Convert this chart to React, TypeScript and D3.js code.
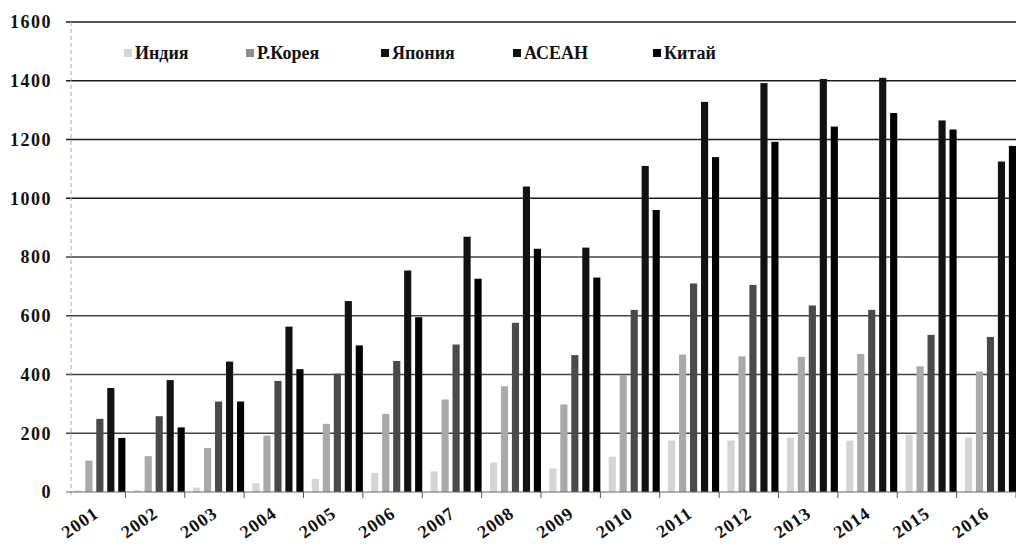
import React, { useEffect, useRef } from 'react';
import { scaleBand, scaleLinear, select } from 'd3';

const years = ['2001', '2002', '2003', '2004', '2005', '2006', '2007', '2008', '2009', '2010', '2011', '2012', '2013', '2014', '2015', '2016'];
const seriesNames = ['Индия', 'Р.Корея', 'Япония', 'АСЕАН', 'Китай'];
const india = [5, 6, 15, 30, 45, 65, 70, 100, 80, 120, 175, 175, 185, 175, 195, 185];
const korea = [107, 122, 150, 192, 232, 266, 315, 360, 298, 398, 468, 462, 460, 470, 428, 410];
const japan = [249, 258, 308, 378, 403, 446, 502, 576, 466, 620, 710, 705, 635, 620, 535, 528];
const asean = [354, 381, 444, 563, 650, 754, 869, 1040, 832, 1110, 1328, 1392, 1406, 1410, 1265, 1125];
const china = [184, 220, 308, 418, 499, 595, 726, 828, 730, 960, 1140, 1192, 1244, 1290, 1234, 1178];
const yTicks = [0, 200, 400, 600, 800, 1000, 1200, 1400, 1600];

const colors = ['#d4d4d4', '#a9a9a9', '#4a4a4a', '#121212', '#000000'];

export default function App() {
	const ref = useRef<SVGSVGElement>(null);

	useEffect(() => {
		const svg = select(ref.current);
		svg.selectAll('*').remove();

		const left = 66;
		const right = 1016;
		const top = 22;
		const bottom = 492;
		const font = 'Times New Roman, Liberation Serif, serif';
		const values = [india, korea, japan, asean, china];

		const y = scaleLinear().domain([0, 1600]).range([bottom, top]);
		const x0 = scaleBand()
			.domain(years)
			.range([left, right])
			.paddingInner(0.14)
			.paddingOuter(0.07)
			.align(1);
		const x1 = scaleBand().domain(seriesNames).range([0, x0.bandwidth()]).paddingInner(0.35);
		const step = x0.step();

		// grid
		svg.append('g')
			.selectAll('line')
			.data(yTicks.filter((d) => d > 0))
			.enter()
			.append('line')
			.attr('x1', left)
			.attr('x2', right)
			.attr('y1', (d) => y(d))
			.attr('y2', (d) => y(d))
			.attr('stroke', (d) => (d >= 1000 ? '#1a1a1a' : '#444'))
			.attr('stroke-width', 1.6);

		// faint y axis
		svg.append('line')
			.attr('x1', 71)
			.attr('x2', 71)
			.attr('y1', top)
			.attr('y2', bottom + 4)
			.attr('stroke', '#aaa')
			.attr('stroke-width', 1)
			.attr('stroke-dasharray', '4 3');

		// bars
		const groups = svg.append('g')
			.selectAll('g')
			.data(years)
			.enter()
			.append('g')
			.attr('transform', (d) => `translate(${x0(d)},0)`);

		groups.selectAll('rect')
			.data((d, i) => seriesNames.map((s, k) => ({ s, k, v: values[k][i] })))
			.enter()
			.append('rect')
			.attr('x', (d) => x1(d.s) as number)
			.attr('y', (d) => y(d.v))
			.attr('width', x1.bandwidth())
			.attr('height', (d) => bottom - y(d.v))
			.attr('fill', (d) => colors[d.k]);

		// baseline and category ticks
		svg.append('line')
			.attr('x1', left)
			.attr('x2', right)
			.attr('y1', bottom)
			.attr('y2', bottom)
			.attr('stroke', '#666')
			.attr('stroke-width', 1);

		svg.append('g')
			.selectAll('line')
			.data(years)
			.enter()
			.append('line')
			.attr('x1', (d, i) => left + (i + 1) * step)
			.attr('x2', (d, i) => left + (i + 1) * step)
			.attr('y1', bottom)
			.attr('y2', bottom + 6)
			.attr('stroke', '#555');

		// y labels
		svg.append('g')
			.selectAll('text')
			.data(yTicks)
			.enter()
			.append('text')
			.attr('x', 52)
			.attr('y', (d) => y(d))
			.attr('dy', '0.35em')
			.attr('text-anchor', 'end')
			.attr('font-family', font)
			.attr('font-weight', 700)
			.attr('font-size', 18)
			.attr('letter-spacing', 1.5)
			.attr('fill', '#111')
			.text((d) => d);

		// x labels
		svg.append('g')
			.selectAll('text')
			.data(years)
			.enter()
			.append('text')
			.attr('transform', (d) => `translate(${(x0(d) as number) + x0.bandwidth() / 2},${bottom + 24}) rotate(-35)`)
			.attr('text-anchor', 'end')
			.attr('font-family', font)
			.attr('font-weight', 700)
			.attr('font-size', 18)
			.attr('letter-spacing', 1)
			.attr('fill', '#111')
			.text((d) => d);

		// legend
		const legendX = [128, 250, 385, 517, 657];
		const legend = svg.append('g')
			.selectAll('g')
			.data(seriesNames)
			.enter()
			.append('g')
			.attr('transform', (d, i) => `translate(${legendX[i]},53)`);

		legend.append('rect')
			.attr('x', -4)
			.attr('y', -4)
			.attr('width', 8)
			.attr('height', 8)
			.attr('fill', (d, i) => (i === 2 ? '#111' : i === 1 ? '#8c8c8c' : colors[i]));

		legend.append('text')
			.attr('x', 7)
			.attr('dy', '0.35em')
			.attr('font-family', font)
			.attr('font-weight', 700)
			.attr('font-size', 18)
			.attr('fill', '#111')
			.text((d) => d);
	}, []);

	return (
		<svg
			ref={ref}
			width={1016}
			height={550}
			style={{ position: 'absolute', left: 0, top: 0, background: '#fff' }}
		/>
	);
}
